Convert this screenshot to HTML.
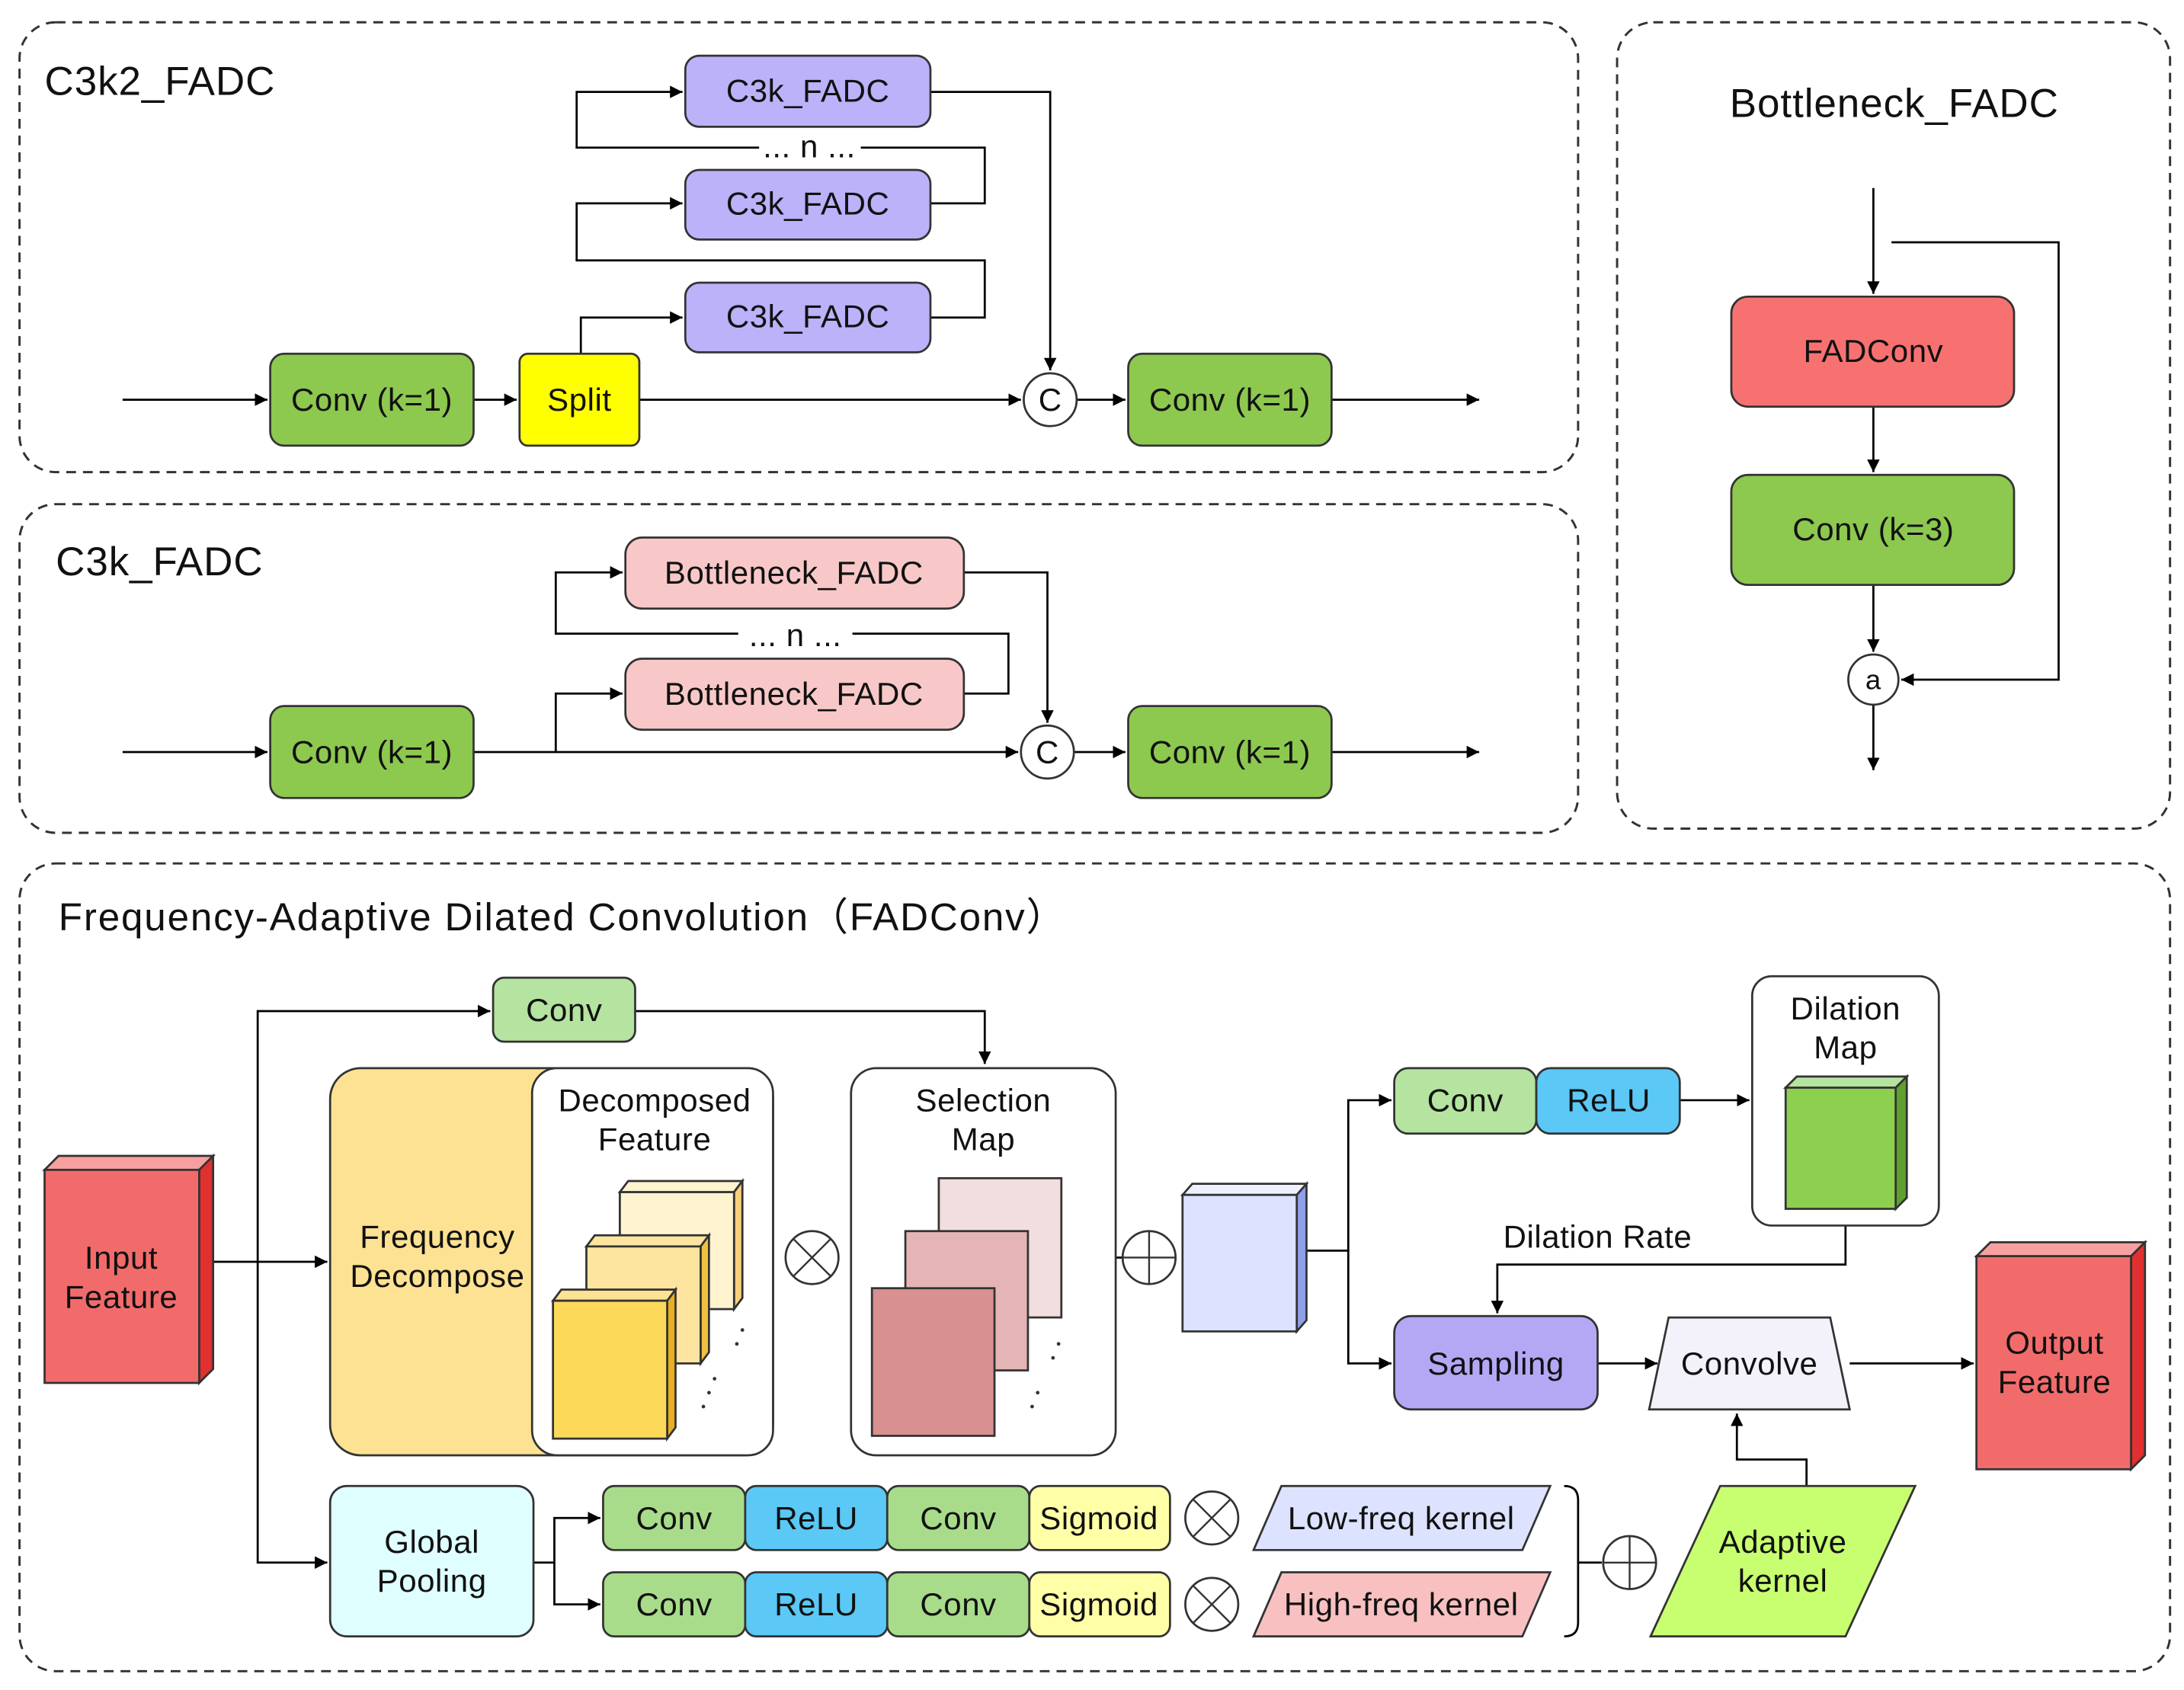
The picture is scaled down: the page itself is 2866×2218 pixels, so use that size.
<!DOCTYPE html>
<html><head><meta charset="utf-8"><style>
html,body{margin:0;padding:0;background:#fff;}
svg{display:block}
text{font-family:"Liberation Sans",Arial,sans-serif;fill:#111;}
</style></head><body>
<svg width="2866" height="2218" viewBox="0 0 1568 1213.5" xmlns="http://www.w3.org/2000/svg">
<defs>
<marker id="a" viewBox="0 0 10 10" refX="10" refY="5" markerWidth="9" markerHeight="9" markerUnits="userSpaceOnUse" orient="auto"><path d="M0,0 L10,5 L0,10 z" fill="#000"/></marker>
</defs>
<g fill="none" stroke="#333" stroke-width="1.6" stroke-dasharray="7,5">
<rect x="14" y="16" width="1119" height="323" rx="26"/>
<rect x="14" y="362" width="1119" height="236" rx="26"/>
<rect x="1161" y="16" width="397" height="579" rx="26"/>
<rect x="14" y="620" width="1544" height="580" rx="26"/>
</g>
<g font-size="29" letter-spacing="0.5">
<text x="32" y="68">C3k2_FADC</text>
<text x="40" y="413">C3k_FADC</text>
<text x="1360" y="84" text-anchor="middle">Bottleneck_FADC</text>
<text x="42" y="668" font-size="28" letter-spacing="1">Frequency-Adaptive Dilated Convolution（FADConv）</text>
</g>
<g stroke="#000" stroke-width="1.5" fill="none">
<path d="M88,287H192" marker-end="url(#a)"/>
<path d="M340,287H371" marker-end="url(#a)"/>
<path d="M459,287H733" marker-end="url(#a)"/>
<path d="M773,287H808" marker-end="url(#a)"/>
<path d="M956,287H1062" marker-end="url(#a)"/>
<path d="M417,254V228H490" marker-end="url(#a)"/>
<path d="M668,228H707V187H414V146H490" marker-end="url(#a)"/>
<path d="M668,146H707V106H618M545,106H414V66H490" marker-end="url(#a)"/>
<path d="M668,66H754V266" marker-end="url(#a)"/>
<path d="M88,540H192" marker-end="url(#a)"/>
<path d="M340,540H731" marker-end="url(#a)"/>
<path d="M771,540H808" marker-end="url(#a)"/>
<path d="M956,540H1062" marker-end="url(#a)"/>
<path d="M399,540V498H447" marker-end="url(#a)"/>
<path d="M692,498H724V455H612M530,455H399V411H447" marker-end="url(#a)"/>
<path d="M692,411H752V519" marker-end="url(#a)"/>
<path d="M1345,135V211" marker-end="url(#a)"/>
<path d="M1345,292V339" marker-end="url(#a)"/>
<path d="M1345,420V468" marker-end="url(#a)"/>
<path d="M1345,506V553" marker-end="url(#a)"/>
<path d="M1358,174H1478V488H1365" marker-end="url(#a)"/>
<path d="M153,906H235" marker-end="url(#a)"/>
<path d="M185,906V726H352" marker-end="url(#a)"/>
<path d="M185,906V1122H235" marker-end="url(#a)"/>
<path d="M456,726H707V764" marker-end="url(#a)"/>
<path d="M801,903H806"/>
<path d="M938,898H968V790H999" marker-end="url(#a)"/>
<path d="M968,898V979H999" marker-end="url(#a)"/>
<path d="M1206,790H1256" marker-end="url(#a)"/>
<path d="M1325,880V908H1075V943" marker-end="url(#a)"/>
<path d="M1147,979H1190" marker-end="url(#a)"/>
<path d="M1328,979H1417" marker-end="url(#a)"/>
<path d="M383,1122H398V1090H431" marker-end="url(#a)"/>
<path d="M398,1122V1152H431" marker-end="url(#a)"/>
<path d="M1297,1067V1048H1247V1015" marker-end="url(#a)"/>
<path d="M1123,1067Q1133,1067 1133,1077V1165Q1133,1175 1123,1175"/>
<path d="M1133,1122H1150"/>
<path d="M768,848Q780,848 780,858V1022Q780,1032 768,1032"/>
</g>
<g stroke="#333" stroke-width="1.5">
<rect x="194" y="254" width="146" height="66" rx="10" fill="#8DC84F"/>
<rect x="373" y="254" width="86" height="66" rx="6" fill="#FFFF00"/>
<rect x="810" y="254" width="146" height="66" rx="10" fill="#8DC84F"/>
<rect x="492" y="40" width="176" height="51" rx="10" fill="#BBB2FA"/>
<rect x="492" y="122" width="176" height="50" rx="10" fill="#BBB2FA"/>
<rect x="492" y="203" width="176" height="50" rx="10" fill="#BBB2FA"/>
<rect x="194" y="507" width="146" height="66" rx="10" fill="#8DC84F"/>
<rect x="810" y="507" width="146" height="66" rx="10" fill="#8DC84F"/>
<rect x="449" y="386" width="243" height="51" rx="12" fill="#F8C8C8"/>
<rect x="449" y="473" width="243" height="51" rx="12" fill="#F8C8C8"/>
<rect x="1243" y="213" width="203" height="79" rx="12" fill="#F87171"/>
<rect x="1243" y="341" width="203" height="79" rx="12" fill="#8DC84F"/>
<circle cx="754" cy="287" r="19" fill="#fff"/>
<circle cx="752" cy="540" r="19" fill="#fff"/>
<circle cx="1345" cy="488" r="18" fill="#fff"/>
<rect x="354" y="702" width="102" height="46" rx="8" fill="#B5E3A0"/>
<rect x="237" y="767" width="318" height="278" rx="22" fill="#FDE293"/>
<rect x="382" y="767" width="173" height="278" rx="18" fill="#fff"/>
<rect x="611" y="767" width="190" height="278" rx="18" fill="#fff"/>
<rect x="1258" y="701" width="134" height="179" rx="14" fill="#fff"/>
<rect x="1001" y="767" width="102" height="47" rx="10" fill="#B5E3A0"/>
<rect x="1103" y="767" width="103" height="47" rx="10" fill="#5BC8F5"/>
<rect x="1001" y="945" width="146" height="67" rx="12" fill="#B4A8F5"/>
<path d="M1198,946H1314L1328,1012H1184Z" fill="#F3F2FA"/>
<rect x="237" y="1067" width="146" height="108" rx="12" fill="#DFFEFF"/>
<rect x="433" y="1067" width="102" height="46" rx="8" fill="#A8DC8A"/>
<rect x="535" y="1067" width="102" height="46" rx="8" fill="#5BC8F5"/>
<rect x="637" y="1067" width="102" height="46" rx="8" fill="#A8DC8A"/>
<rect x="739" y="1067" width="101" height="46" rx="8" fill="#FFFFA8"/>
<rect x="433" y="1129" width="102" height="46" rx="8" fill="#A8DC8A"/>
<rect x="535" y="1129" width="102" height="46" rx="8" fill="#5BC8F5"/>
<rect x="637" y="1129" width="102" height="46" rx="8" fill="#A8DC8A"/>
<rect x="739" y="1129" width="101" height="46" rx="8" fill="#FFFFA8"/>
<path d="M920,1067H1113L1093,1113H900Z" fill="#DDE3FF"/>
<path d="M920,1129H1113L1093,1175H900Z" fill="#F8C0C0"/>
<path d="M1235,1067H1375L1325,1175H1185Z" fill="#C8FF70"/>
<path d="M32,840L42,830H153L143,840Z" fill="#F8A0A0"/>
<path d="M143,840L153,830V983L143,993Z" fill="#E03030"/>
<rect x="32" y="840" width="111" height="153" fill="#F26B6B"/>
<path d="M1419,902L1429,892H1540L1530,902Z" fill="#F8A0A0"/>
<path d="M1530,902L1540,892V1045L1530,1055Z" fill="#E03030"/>
<rect x="1419" y="902" width="111" height="153" fill="#F26B6B"/>
<path d="M445,856L451,848H533L527,856Z" fill="#FFF3D0"/>
<path d="M527,856L533,848V932L527,940Z" fill="#F5D27A"/>
<rect x="445" y="856" width="82" height="84" fill="#FFF3D0"/>
<path d="M421,895L427,887H509L503,895Z" fill="#FDE5A0"/>
<path d="M503,895L509,887V971L503,979Z" fill="#F0C040"/>
<rect x="421" y="895" width="82" height="84" fill="#FDE5A0"/>
<path d="M397,934L403,926H485L479,934Z" fill="#FDE293"/>
<path d="M479,934L485,926V1025L479,1033Z" fill="#E8B020"/>
<rect x="397" y="934" width="82" height="99" fill="#FDD95A"/>
<rect x="674" y="846" width="88" height="100" fill="#F2DEDE"/>
<rect x="650" y="884" width="88" height="100" fill="#E5B5B5"/>
<rect x="626" y="925" width="88" height="106" fill="#D99090"/>
<path d="M849,858L856,850H938L931,858Z" fill="#EEF0FF"/>
<path d="M931,858L938,850V948L931,956Z" fill="#8F9FE8"/>
<rect x="849" y="858" width="82" height="98" fill="#DDE3FF"/>
<path d="M1282,781L1290,773H1369L1361,781Z" fill="#B5E3A0"/>
<path d="M1361,781L1369,773V860L1361,868Z" fill="#5FA030"/>
<rect x="1282" y="781" width="79" height="87" fill="#8DD04F"/>
<g fill="#fff">
<circle cx="583" cy="903" r="19"/><circle cx="825" cy="903" r="19"/>
<circle cx="870" cy="1090" r="19"/><circle cx="870" cy="1152" r="19"/>
<circle cx="1170" cy="1122" r="19"/>
</g>
</g>
<g stroke="#333" stroke-width="1.3">
<path d="M570,890L596,916M596,890L570,916M857,1077L883,1103M883,1077L857,1103M857,1139L883,1165M883,1139L857,1165"/>
<path d="M806,903H844M825,884V922M1151,1122H1189M1170,1103V1141"/>
</g>
<g fill="#333">
<circle cx="513" cy="990" r="1.3"/><circle cx="509" cy="1000" r="1.3"/><circle cx="505" cy="1010" r="1.3"/>
<circle cx="533" cy="955" r="1.3"/><circle cx="529" cy="965" r="1.3"/>
<circle cx="745" cy="1000" r="1.3"/><circle cx="741" cy="1010" r="1.3"/><circle cx="760" cy="965" r="1.3"/><circle cx="756" cy="975" r="1.3"/>
</g>
<g font-size="23" text-anchor="middle" letter-spacing="0.3">
<text x="267" y="295">Conv (k=1)</text>
<text x="416" y="295">Split</text>
<text x="883" y="295">Conv (k=1)</text>
<text x="580" y="73">C3k_FADC</text>
<text x="580" y="154">C3k_FADC</text>
<text x="580" y="235">C3k_FADC</text>
<text x="581" y="113">... n ...</text>
<text x="754" y="295">C</text>
<text x="267" y="548">Conv (k=1)</text>
<text x="883" y="548">Conv (k=1)</text>
<text x="570" y="419">Bottleneck_FADC</text>
<text x="570" y="506">Bottleneck_FADC</text>
<text x="571" y="464">... n ...</text>
<text x="752" y="548">C</text>
<text x="1345" y="260">FADConv</text>
<text x="1345" y="388">Conv (k=3)</text>
<text x="1345" y="495" font-size="20">a</text>
<text x="87" y="911">Input</text><text x="87" y="939">Feature</text>
<text x="1475" y="972">Output</text><text x="1475" y="1000">Feature</text>
<text x="405" y="733">Conv</text>
<text x="314" y="896">Frequency</text><text x="314" y="924">Decompose</text>
<text x="470" y="798">Decomposed</text><text x="470" y="826">Feature</text>
<text x="706" y="798">Selection</text><text x="706" y="826">Map</text>
<text x="1052" y="798">Conv</text>
<text x="1155" y="798">ReLU</text>
<text x="1325" y="732">Dilation</text><text x="1325" y="760">Map</text>
<text x="1147" y="896">Dilation Rate</text>
<text x="1074" y="987">Sampling</text>
<text x="1256" y="987">Convolve</text>
<text x="310" y="1115">Global</text><text x="310" y="1143">Pooling</text>
<text x="484" y="1098">Conv</text><text x="586" y="1098">ReLU</text><text x="688" y="1098">Conv</text><text x="789" y="1098">Sigmoid</text>
<text x="484" y="1160">Conv</text><text x="586" y="1160">ReLU</text><text x="688" y="1160">Conv</text><text x="789" y="1160">Sigmoid</text>
<text x="1006" y="1098">Low-freq kernel</text>
<text x="1006" y="1160">High-freq kernel</text>
<text x="1280" y="1115">Adaptive</text><text x="1280" y="1143">kernel</text>
</g>
</svg>
</body></html>
